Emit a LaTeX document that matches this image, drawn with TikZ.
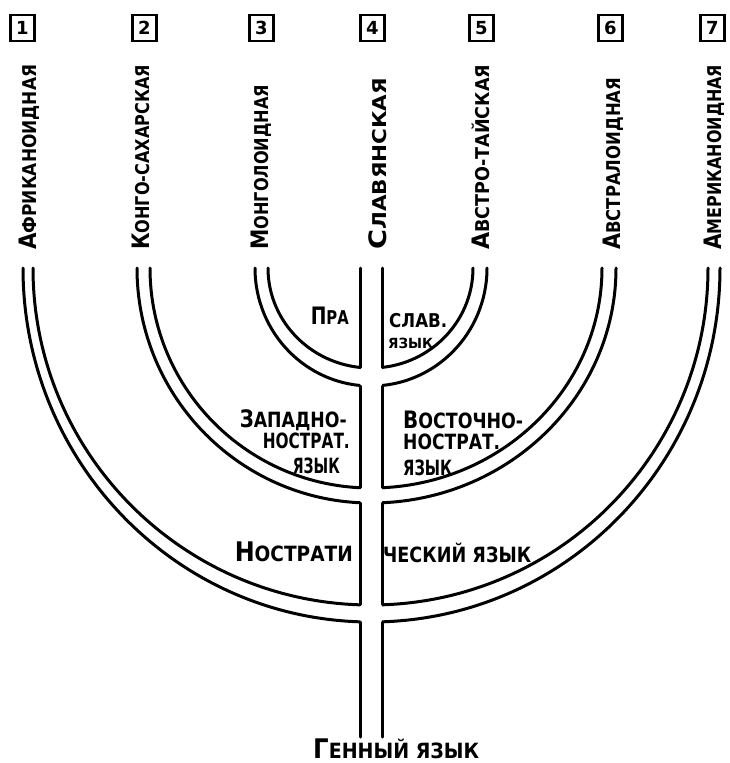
\documentclass[tikz,border=0pt]{standalone}
\usepackage{fontspec}
\setmainfont{DejaVu Sans}
\usepackage{graphicx}
\newcommand\fitw[2]{\resizebox{#1}{\height}{#2}}
\newcommand\Bg[1]{{\fontsize{24}{24}\selectfont #1}}
\newcommand\Sm[1]{{\fontsize{19}{19}\selectfont #1}}
\newcommand\Hb[1]{{\fontsize{27}{27}\selectfont #1}}
\newcommand\Hm[1]{{\fontsize{21}{21}\selectfont #1}}
\newcommand\Tn[1]{{\fontsize{14}{14}\selectfont #1}}
\tikzset{
  tube/.style={line width=3pt, line cap=round},
  lbl/.style={rotate=90, anchor=base west, inner sep=0pt, font=\bfseries},
  txtl/.style={anchor=base west, inner sep=0pt, font=\bfseries},
  txtr/.style={anchor=base east, inner sep=0pt, font=\bfseries},
  numbox/.style={draw, line width=2.8pt, minimum width=24pt, minimum height=26pt, inner sep=0pt, font=\bfseries\fontsize{18}{18}\selectfont},
}
\begin{document}
\begin{tikzpicture}[x=1pt,y=-1pt]
\useasboundingbox (0,0) rectangle (729,763);
% number boxes
\node[numbox] (b1) at (22.5,28) {1};
\node[numbox] (b2) at (144.5,28) {2};
\node[numbox] (b3) at (261.5,28) {3};
\node[numbox] (b4) at (372.5,28) {4};
\node[numbox] (b5) at (481.5,28) {5};
\node[numbox] (b6) at (610.5,28) {6};
\node[numbox] (b7) at (712.5,28) {7};
% vertical labels
\node[lbl] (l1) at (36,250) {\fitw{185pt}{\Bg{А}\Sm{ФРИКАНОИДНАЯ}}};
\node[lbl] (l2) at (149,250) {\fitw{185pt}{\Bg{К}\Sm{ОНГО-САХАРСКАЯ}}};
\node[lbl] (l3) at (268,250) {\fitw{165pt}{\Bg{М}\Sm{ОНГОЛОИДНАЯ}}};
\node[lbl] (l4) at (386,250) {\fitw{172pt}{\Bg{С}\Sm{ЛАВЯНСКАЯ}}};
\node[lbl] (l5) at (489,250) {\fitw{185pt}{\Bg{А}\Sm{ВСТРО-ТАЙСКАЯ}}};
\node[lbl] (l6) at (620,250) {\fitw{172pt}{\Bg{А}\Sm{ВСТРАЛОИДНАЯ}}};
\node[lbl] (l7) at (721,250) {\fitw{185pt}{\Bg{А}\Sm{МЕРИКАНОИДНАЯ}}};
% arcs, left halves
\begin{scope}
\clip (0,0) rectangle (360,763);
\draw[tube] (255,268) arc[start angle=180, end angle=270, x radius=116pt, y radius=118pt];
\draw[tube] (268,268) arc[start angle=180, end angle=270, x radius=103pt, y radius=100pt];
\draw[tube] (137,268) arc[start angle=180, end angle=270, x radius=234pt, y radius=235pt];
\draw[tube] (150,268) arc[start angle=180, end angle=270, x radius=221pt, y radius=220pt];
\draw[tube] (23,268) arc[start angle=180, end angle=270, x radius=348pt, y radius=354pt];
\draw[tube] (33,268) arc[start angle=180, end angle=270, x radius=338pt, y radius=337pt];
\end{scope}
% arcs, right halves
\begin{scope}
\clip (382,0) rectangle (729,763);
\draw[tube] (487,268) arc[start angle=0, end angle=-90, x radius=116pt, y radius=118pt];
\draw[tube] (473,268) arc[start angle=0, end angle=-90, x radius=102pt, y radius=100pt];
\draw[tube] (616,268) arc[start angle=0, end angle=-90, x radius=245pt, y radius=235pt];
\draw[tube] (602,268) arc[start angle=0, end angle=-90, x radius=231pt, y radius=220pt];
\draw[tube] (720,268) arc[start angle=0, end angle=-90, x radius=349pt, y radius=354pt];
\draw[tube] (708,268) arc[start angle=0, end angle=-90, x radius=337pt, y radius=337pt];
\end{scope}
% stem
\foreach \sx in {360,382}{
  \draw[tube] (\sx,268) -- (\sx,367.5);
  \draw[tube] (\sx,386) -- (\sx,487.5);
  \draw[tube] (\sx,503) -- (\sx,604.5);
  \draw[tube] (\sx,622) -- (\sx,737);
}
% inner texts
\node[txtr] (pra) at (349,324) {\fitw{38pt}{\Bg{П}\Sm{РА}}};
\node[txtl] (slav) at (389,327) {\fitw{58pt}{\Sm{СЛАВ.}}};
\node[txtl] (yaz1) at (388,348) {\fitw{45pt}{\Tn{ЯЗЫК}}};
\node[txtr] (zap1) at (347,427) {\fitw{107pt}{\Bg{З}\Hm{АПАДНО-}}};
\node[txtr] (zap2) at (350,448) {\fitw{87pt}{\Hm{НОСТРАТ.}}};
\node[txtr] (zap3) at (340,473) {\fitw{47pt}{\Hm{ЯЗЫК}}};
\node[txtl] (vos1) at (403,428) {\fitw{120pt}{\Bg{В}\Hm{ОСТОЧНО-}}};
\node[txtl] (vos2) at (403,449) {\fitw{97pt}{\Hm{НОСТРАТ.}}};
\node[txtl] (vos3) at (403,475) {\fitw{49pt}{\Hm{ЯЗЫК}}};
\node[txtr] (nos1) at (353,561) {\fitw{118pt}{\Hb{Н}\Hm{ОСТРАТИ}}};
\node[txtl] (nos2) at (383,562) {\fitw{148pt}{\Hm{ЧЕСКИЙ ЯЗЫК}}};
\node[txtl] (gen) at (313,758) {\fitw{166pt}{\Hb{Г}\Hm{ЕННЫЙ ЯЗЫК}}};
\end{tikzpicture}
\end{document}
